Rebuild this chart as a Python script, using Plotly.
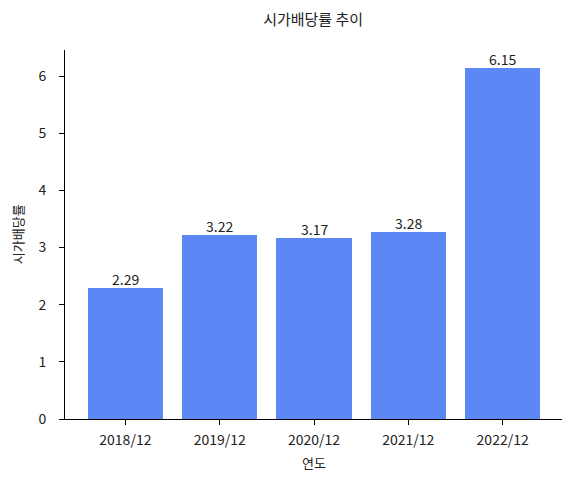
import plotly.graph_objects as go

# 데이터
years = ["2018/12", "2019/12", "2020/12", "2021/12", "2022/12"]
dividend_yield = [2.29, 3.22, 3.17, 3.28, 6.15]
y_ticks = [0, 1, 2, 3, 4, 5, 6]

bar_color = "#5b88f5"
font_family = "Noto Sans CJK KR, Noto Sans, sans-serif"

fig = go.Figure()
fig.add_trace(go.Bar(
    x=list(range(len(years))), y=dividend_yield,
    width=0.8, marker_color=bar_color, marker_line_width=0,
))

# 막대 위 값 표시
for i, v in enumerate(dividend_yield):
    fig.add_annotation(x=i, y=v, text=f"{v:.2f}", showarrow=False,
                       yanchor="bottom", yshift=-3,
                       font=dict(size=14, color="#222222"))

# 축 제목 (위치 맞추려고 annotation 으로)
fig.add_annotation(text="시가배당률", xref="paper", yref="paper", x=-0.095, y=0.5,
                   xanchor="center", yanchor="middle", borderpad=0,
                   textangle=-90, showarrow=False, font=dict(size=13))
fig.add_annotation(text="연도", xref="paper", yref="paper", x=0.5, y=-0.117,
                   xanchor="center", yanchor="middle", showarrow=False, font=dict(size=13))

fig.update_layout(
    width=562, height=471,
    margin=dict(l=57, r=7, t=42, b=60, autoexpand=False),
    plot_bgcolor="white", paper_bgcolor="white",
    font=dict(family=font_family, size=14, color="#222222"),
    title=dict(text="시가배당률 추이", x=0.543, xanchor="center", y=0.975, yanchor="middle",
               font=dict(size=15)),
    showlegend=False,
    bargap=0,
)
fig.update_xaxes(
    range=[-0.64, 4.64], automargin=False,
    tickvals=list(range(len(years))), ticktext=years,
    showline=True, linecolor="black", linewidth=1,
    ticks="outside", ticklen=5, tickcolor="black", ticklabelstandoff=3,
    showgrid=False, zeroline=False,
)
fig.update_yaxes(
    range=[0, 6.4575], automargin=False,
    tickvals=y_ticks,
    showline=True, linecolor="black", linewidth=1,
    ticks="outside", ticklen=5, tickcolor="black", ticklabelstandoff=10,
    showgrid=False, zeroline=False,
)

fig.write_html("out.html")
